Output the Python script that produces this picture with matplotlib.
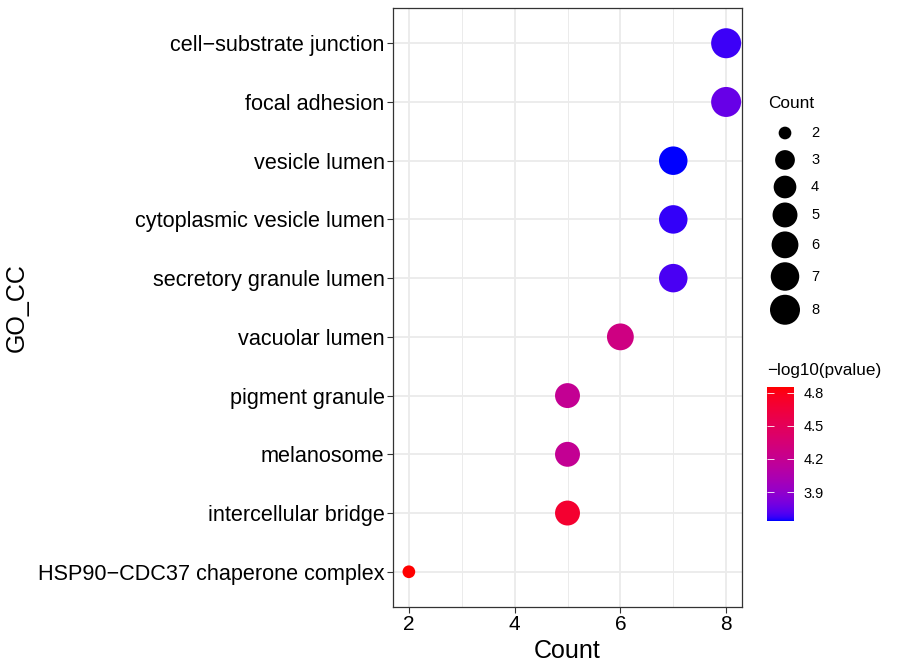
import numpy as np
import matplotlib
matplotlib.use('Agg')
import matplotlib.pyplot as plt
from matplotlib.colors import ListedColormap, Normalize
from matplotlib.cm import ScalarMappable

plt.rcParams['font.family'] = ['Liberation Sans', 'DejaVu Sans']

# Dados
termos = ["cell\u2212substrate junction", "focal adhesion", "vesicle lumen",
          "cytoplasmic vesicle lumen", "secretory granule lumen", "vacuolar lumen",
          "pigment granule", "melanosome", "intercellular bridge",
          "HSP90\u2212CDC37 chaperone complex"]
contagens = [8, 8, 7, 7, 7, 6, 5, 5, 5, 2]
logp = [3.68, 3.76, 3.64, 3.67, 3.70, 4.28, 4.19, 4.19, 4.70, 4.85]
legenda_contagem = [2, 3, 4, 5, 6, 7, 8]
ticks_cor = [3.9, 4.2, 4.5, 4.8]


def srgb_para_lab(rgb):
    rgb = np.asarray(rgb, float)
    lin = np.where(rgb <= 0.04045, rgb / 12.92, ((rgb + 0.055) / 1.055) ** 2.4)
    M = np.array([[0.4124, 0.3576, 0.1805], [0.2126, 0.7152, 0.0722], [0.0193, 0.1192, 0.9505]])
    xyz = M @ lin / np.array([0.95047, 1.0, 1.08883])
    f = np.where(xyz > 0.008856, np.cbrt(xyz), 7.787 * xyz + 16 / 116)
    return np.array([116 * f[1] - 16, 500 * (f[0] - f[1]), 200 * (f[1] - f[2])])


def lab_para_srgb(lab):
    L, a, b = lab
    fy = (L + 16) / 116
    fx = fy + a / 500
    fz = fy - b / 200
    f = np.array([fx, fy, fz])
    xyz = np.where(f ** 3 > 0.008856, f ** 3, (f - 16 / 116) / 7.787) * np.array([0.95047, 1.0, 1.08883])
    Minv = np.linalg.inv(np.array([[0.4124, 0.3576, 0.1805], [0.2126, 0.7152, 0.0722], [0.0193, 0.1192, 0.9505]]))
    lin = np.clip(Minv @ xyz, 0, 1)
    return np.clip(np.where(lin <= 0.0031308, 12.92 * lin, 1.055 * lin ** (1 / 2.4) - 0.055), 0, 1)


# Gradiente azul -> vermelho em espaco Lab (como no ggplot)
lab_a = srgb_para_lab([0, 0, 1])
lab_b = srgb_para_lab([1, 0, 0])
cores = [lab_para_srgb(lab_a + t * (lab_b - lab_a)) for t in np.linspace(0, 1, 256)]
cmap = ListedColormap(cores)
norm = Normalize(vmin=min(logp), vmax=max(logp))


def diametro_px(c):
    return 12.7 + 17.3 * np.sqrt((np.asarray(c, float) - 2) / 6)


def area_pts(c):
    return (diametro_px(c) * 0.72) ** 2


fig = plt.figure(figsize=(8.98, 6.72), dpi=100)
ax = fig.add_axes([393 / 898, 1 - 607 / 672, (742 - 393) / 898, (607 - 8) / 672])

n = len(termos)
ypos = np.arange(n)[::-1]
ax.scatter(contagens, ypos, s=area_pts(contagens), c=logp, cmap=cmap, norm=norm,
           edgecolors='none', zorder=3)

ax.set_xlim(1.7, 8.3)
ax.set_ylim(-0.6, n - 0.4)
ax.set_xticks([2, 4, 6, 8])
ax.set_xticks([3, 5, 7], minor=True)
ax.set_yticks(ypos)
ax.set_yticklabels(termos)
ax.grid(True, which='major', color='#EBEBEB', linewidth=1.3, zorder=0)
ax.grid(True, which='minor', axis='x', color='#EBEBEB', linewidth=0.7, zorder=0)
ax.set_axisbelow(True)
ax.tick_params(axis='both', which='major', length=4, width=0.8, color='#333333',
               labelcolor='black', pad=2)
ax.tick_params(axis='x', labelsize=15)
ax.tick_params(axis='y', labelsize=15.6)
ax.tick_params(which='minor', length=0)
for sp in ax.spines.values():
    sp.set_color('#333333')
    sp.set_linewidth(0.9)
ax.set_xlabel('Count', fontsize=18, labelpad=3)
ax.set_ylabel('GO_CC', fontsize=18, labelpad=7)

# Legenda de tamanho
lg = fig.add_axes([0, 0, 1, 1])
lg.set_xlim(0, 898)
lg.set_ylim(672, 0)
lg.axis('off')
lg.text(768, 103, 'Count', fontsize=12.4, va='center', ha='left')
alturas = np.maximum(27, diametro_px(legenda_contagem) + 4)
centros = 133 + np.concatenate([[0], np.cumsum((alturas[:-1] + alturas[1:]) / 2)])
lg.scatter([785] * len(legenda_contagem), centros, s=area_pts(legenda_contagem),
           color='black', edgecolors='none')
for c, y in zip(legenda_contagem, centros):
    lg.text(811, y, str(c), fontsize=10.5, va='center', ha='left')

lg.text(767, 370, '\u2212log10(pvalue)', fontsize=12.3, va='center', ha='left')

# Barra de cores
cax = fig.add_axes([767 / 898, 1 - 521 / 672, 27 / 898, 134 / 672])
cb = fig.colorbar(ScalarMappable(norm=norm, cmap=cmap), cax=cax, ticks=ticks_cor)
cb.outline.set_visible(False)
cb.ax.set_yticklabels([f'{t:.1f}' for t in ticks_cor])
cax.tick_params(axis='y', direction='in', color='white', length=5, width=0.6,
                left=True, right=True, labelsize=10.5, pad=7)

fig.savefig('out.png', dpi=100)
